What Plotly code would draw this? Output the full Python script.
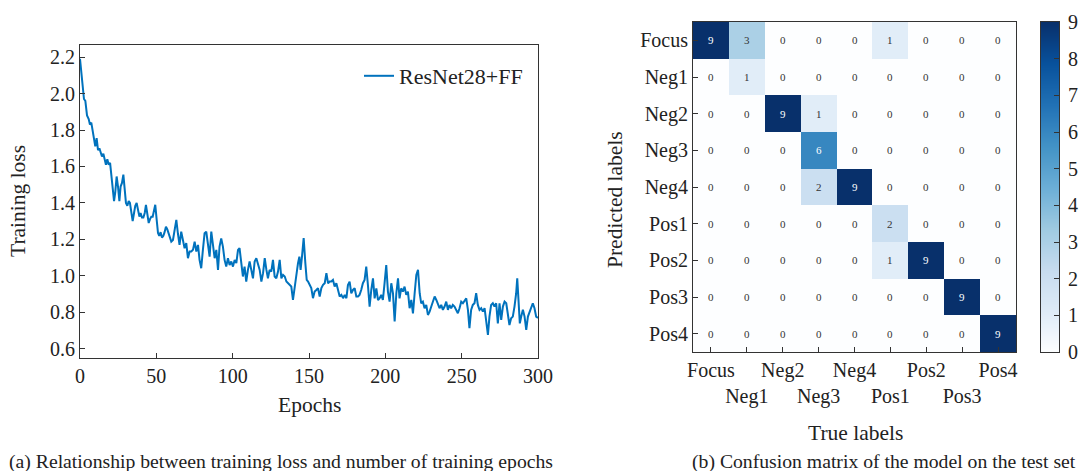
import plotly.graph_objects as go

# ---------------- data: training loss ----------------
epochs = [0, 1.3, 2.0, 2.6, 3.5, 4.6, 5.7, 6.5, 7.4, 8.3, 9.2, 10.0, 10.9, 11.8, 12.7, 13.5, 14.4, 15.3,
          16.2, 17.0, 17.9, 18.8, 19.7, 20.5, 21.4, 22.3, 23.1, 24.0, 24.9, 25.8, 26.6, 27.5, 28.4, 29.3,
          30.1, 31.0, 31.9, 32.7, 33.6, 34.5, 35.4, 36.2, 37.1, 38.0, 38.9, 39.7, 40.6, 41.5, 42.4, 43.2,
          44.1, 45.0, 45.8, 46.7, 47.6, 48.5, 49.3, 50.2, 51.1, 51.9, 52.8, 53.7, 54.6, 55.4, 56.3, 57.2,
          58.7, 59.8, 60.9, 62.0, 63.1, 64.1, 65.2, 66.3, 67.4, 68.5, 69.6, 70.7, 71.8, 72.9, 74.0, 75.1,
          76.2, 77.3, 78.3, 79.4, 80.5, 81.6, 82.7, 83.8, 84.9, 86.0, 87.1, 88.2, 89.3, 90.4, 91.4, 92.5,
          93.6, 94.7, 95.8, 96.9, 98.0, 99.1, 100.2, 101.3, 102.4, 103.5, 104.5, 105.6, 106.7, 107.8, 108.9,
          110.0, 111.1, 112.2, 113.3, 114.4, 115.5, 117.7, 118.8, 119.9, 121.0, 122.1, 123.1, 124.2, 125.3,
          126.4, 127.5, 128.6, 129.7, 130.8, 131.9, 133.0, 134.1, 135.2, 136.3, 137.3, 138.4, 139.5, 140.6,
          141.7, 142.8, 143.7, 144.5, 145.4, 146.5, 147.6, 148.5, 149.4, 150.4, 151.5, 152.6, 153.7, 154.8,
          155.9, 157.0, 158.1, 159.2, 160.3, 161.4, 162.5, 163.5, 164.6, 165.7, 166.8, 167.9, 169.0, 170.1,
          171.2, 172.3, 173.4, 174.5, 175.5, 176.6, 177.7, 178.8, 179.9, 181.0, 182.1, 183.1, 184.2, 185.3,
          186.4, 187.5, 188.6, 189.7, 190.8, 191.9, 193.0, 194.1, 195.2, 196.2, 197.3, 198.4, 199.5, 200.6,
          201.7, 202.8, 203.9, 205.0, 206.1, 207.2, 208.3, 209.3, 210.4, 211.5, 212.6, 213.7, 214.8, 215.9,
          217.0, 218.1, 219.2, 220.3, 221.4, 222.5, 223.5, 224.6, 225.7, 226.8, 227.9, 229.0, 230.1, 231.2,
          232.3, 233.4, 234.4, 235.5, 236.6, 237.7, 238.8, 239.9, 241.0, 242.0, 243.1, 244.2, 245.3, 246.4,
          247.5, 248.6, 249.7, 250.8, 251.9, 253.0, 254.1, 255.1, 256.2, 257.3, 258.4, 259.5, 260.6, 261.7,
          262.8, 263.9, 265.0, 266.0, 267.2, 268.2, 269.3, 270.4, 271.5, 272.6, 273.7, 274.8, 275.9, 277.0,
          278.1, 279.2, 280.3, 281.3, 282.4, 283.5, 284.6, 285.7, 286.4, 287.3, 288.1, 289.0, 290.1, 291.2,
          292.3, 293.4, 294.4, 295.5, 296.6, 297.7, 298.8, 300.0]
loss = [2.19, 2.09, 2.01, 1.97, 1.96, 1.88, 1.86, 1.83, 1.84, 1.80, 1.755, 1.71, 1.755, 1.69, 1.70, 1.67, 1.655, 1.67,
        1.63, 1.61, 1.64, 1.61, 1.62, 1.545, 1.47, 1.41, 1.46, 1.545, 1.49, 1.41, 1.49, 1.51, 1.555, 1.47,
        1.40, 1.385, 1.41, 1.40, 1.345, 1.30, 1.345, 1.385, 1.40, 1.36, 1.325, 1.345, 1.32, 1.32, 1.345, 1.39,
        1.325, 1.29, 1.31, 1.325, 1.325, 1.36, 1.39, 1.31, 1.235, 1.22, 1.24, 1.21, 1.22, 1.24, 1.27, 1.255,
        1.216, 1.188, 1.197, 1.252, 1.307, 1.234, 1.17, 1.243, 1.188, 1.152, 1.18, 1.097, 1.134, 1.134, 1.143, 1.188,
        1.134, 1.17, 1.088, 1.042, 1.143, 1.234, 1.243, 1.161, 1.106, 1.243, 1.17, 1.097, 1.143, 1.033, 1.161, 1.206,
        1.161, 1.088, 1.051, 1.097, 1.06, 1.079, 1.051, 1.088, 1.07, 1.143, 1.152, 1.07, 0.997, 1.051, 0.969,
        1.033, 1.079, 1.033, 0.987, 1.079, 1.097, 1.033, 0.969, 1.015, 1.097, 1.033, 0.987, 1.033, 1.024,
        1.088, 0.997, 0.987, 1.024, 1.088, 0.987, 1.006, 0.997, 0.969, 0.96, 0.951, 0.942, 0.869, 0.942,
        0.997, 1.07, 1.106, 1.033, 1.106, 1.207, 1.07, 0.978, 0.969, 0.951, 0.933, 0.878, 0.914, 0.923,
        0.933, 0.887, 0.933, 0.951, 0.96, 1.015, 0.96, 0.969, 0.969, 0.978, 0.942, 0.96, 0.923, 0.887,
        0.896, 0.878, 0.896, 0.878, 0.95, 0.969, 0.905, 0.923, 0.932, 0.887, 0.887, 0.896, 0.923, 0.96,
        0.978, 1.051, 0.95, 0.832, 0.923, 0.987, 0.877, 0.932, 0.868, 0.877, 0.896, 0.868, 0.96, 1.06,
        0.914, 0.859, 0.96, 0.905, 0.75, 0.905, 0.987, 0.877, 0.932, 0.914, 0.941, 0.896, 0.914, 0.823,
        0.868, 0.795, 0.905, 1.005, 1.033, 0.905, 0.85, 0.859, 0.823, 0.841, 0.786, 0.804, 0.832, 0.859,
        0.887, 0.868, 0.85, 0.823, 0.841, 0.814, 0.832, 0.859, 0.814, 0.841, 0.823, 0.841, 0.832, 0.814,
        0.795, 0.823, 0.859, 0.85, 0.868, 0.877, 0.814, 0.713, 0.814, 0.841, 0.85, 0.905, 0.841, 0.814,
        0.823, 0.804, 0.823, 0.759, 0.677, 0.777, 0.841, 0.85, 0.832, 0.85, 0.74, 0.85, 0.759, 0.832,
        0.859, 0.85, 0.795, 0.731, 0.768, 0.777, 0.832, 0.905, 0.987, 0.868, 0.74, 0.777, 0.814, 0.777,
        0.704, 0.777, 0.804, 0.832, 0.85, 0.823, 0.777, 0.77]
series_name = "ResNet28+FF"
loss_ticks = [0.6, 0.8, 1.0, 1.2, 1.4, 1.6, 1.8, 2.0, 2.2]
epoch_ticks = [0, 50, 100, 150, 200, 250, 300]

# ---------------- data: confusion matrix ----------------
class_labels = ["Focus", "Neg1", "Neg2", "Neg3", "Neg4", "Pos1", "Pos2", "Pos3", "Pos4"]
confusion = [
    [9, 3, 0, 0, 0, 1, 0, 0, 0],
    [0, 1, 0, 0, 0, 0, 0, 0, 0],
    [0, 0, 9, 1, 0, 0, 0, 0, 0],
    [0, 0, 0, 6, 0, 0, 0, 0, 0],
    [0, 0, 0, 2, 9, 0, 0, 0, 0],
    [0, 0, 0, 0, 0, 2, 0, 0, 0],
    [0, 0, 0, 0, 0, 1, 9, 0, 0],
    [0, 0, 0, 0, 0, 0, 0, 9, 0],
    [0, 0, 0, 0, 0, 0, 0, 0, 9],
]
colorbar_ticks = [0, 1, 2, 3, 4, 5, 6, 7, 8, 9]

caption_a = "(a) Relationship between training loss and number of training epochs"
caption_b = "(b) Confusion matrix of the model on the test set"

# ---------------- figure ----------------
W, H = 1080, 471
FONT = "Liberation Serif, Times New Roman, serif"
AX = "#333333"
TXT = "#222222"


def px_x(p):
    return p / W


def px_y(p):
    return 1 - p / H


blues = [[0.0, "rgb(253,254,255)"], [0.125, "rgb(222,235,247)"], [0.25, "rgb(198,219,239)"],
         [0.375, "rgb(158,202,225)"], [0.5, "rgb(107,174,214)"], [0.625, "rgb(66,146,198)"],
         [0.75, "rgb(33,113,181)"], [0.875, "rgb(8,81,156)"], [1.0, "rgb(8,48,107)"]]
zmin, zmax = colorbar_ticks[0], colorbar_ticks[-1]

fig = go.Figure()
fig.add_trace(go.Scatter(x=epochs, y=loss, mode="lines", name=series_name,
                         line=dict(color="#0072BD", width=2), xaxis="x", yaxis="y"))

fig.add_trace(go.Heatmap(
    z=confusion, x=class_labels, y=class_labels, xaxis="x2", yaxis="y2",
    colorscale=blues, zmin=zmin, zmax=zmax, showscale=False, hoverinfo="skip",
))

# colour scale bar drawn as a smoothly interpolated two-level heatmap on its own axes
fig.add_trace(go.Heatmap(
    z=[[zmin, zmin], [zmax, zmax]], x=[0, 1], y=[zmin, zmax], xaxis="x3", yaxis="y3",
    colorscale=blues, zmin=zmin, zmax=zmax, showscale=False, zsmooth="best", hoverinfo="skip",
))

annotations = []
for i, row in enumerate(confusion):
    for j, v in enumerate(row):
        annotations.append(dict(
            x=class_labels[j], y=class_labels[i], xref="x2", yref="y2", text=str(v),
            xanchor="center", yanchor="middle",
            showarrow=False, font=dict(family=FONT, size=11, color="white" if v > 4.5 else "#333")))

xtick_text = [lab if k % 2 == 0 else " <br>" + lab for k, lab in enumerate(class_labels)]


def paper_text(x, y, text, size=21.5, angle=0):
    return dict(x=px_x(x), y=px_y(y), xref="paper", yref="paper", text=text, textangle=angle,
                xanchor="center", yanchor="middle", showarrow=False,
                font=dict(family=FONT, size=size, color=TXT))


annotations += [
    paper_text(18, 201, "Training loss", angle=-90),
    paper_text(309, 405, "Epochs"),
    paper_text(615, 200, "Predicted labels", angle=-90),
    paper_text(855, 433, "True labels"),
    paper_text(281, 461, caption_a, size=19.7),
    paper_text(884, 461, caption_b, size=19.7),
]

axis_common = dict(showline=True, linecolor=AX, linewidth=1, mirror=True, ticks="inside",
                   ticklen=5, tickcolor=AX, showgrid=False, zeroline=False, automargin=False,
                   tickfont=dict(family=FONT, size=20, color=TXT))

fig.update_layout(
    width=W, height=H, margin=dict(l=0, r=0, t=0, b=0, pad=0, autoexpand=False),
    paper_bgcolor="white", plot_bgcolor="white",
    font=dict(family=FONT, color=TXT),
    xaxis=dict(domain=[px_x(80), px_x(538)], range=[0, 300], tickvals=epoch_ticks, anchor="y",
               tickangle=0, **axis_common),
    yaxis=dict(domain=[px_y(358), px_y(45)], range=[0.55, 2.266], tickvals=loss_ticks,
               tickformat=".1f", anchor="x", **axis_common),
    xaxis2=dict(domain=[px_x(693), px_x(1016)], anchor="y2", type="category",
                categoryorder="array", categoryarray=class_labels, tickangle=0,
                tickvals=class_labels, ticktext=xtick_text, **axis_common),
    yaxis2=dict(domain=[px_y(352), px_y(22)], anchor="x2", type="category",
                categoryorder="array", categoryarray=class_labels, autorange="reversed",
                **axis_common),
    xaxis3=dict(domain=[px_x(1041), px_x(1059)], anchor="y3", range=[0, 1], showline=True,
                linecolor=AX, linewidth=1, mirror=True, ticks="", showticklabels=False,
                showgrid=False, zeroline=False, automargin=False, fixedrange=True),
    yaxis3=dict(domain=[px_y(352), px_y(22)], anchor="x3", range=[zmin, zmax], side="right",
                tickvals=colorbar_ticks, ticklabelstandoff=4, **axis_common),
    showlegend=True,
    legend=dict(x=px_x(359), y=px_y(55), xanchor="left", yanchor="top", bgcolor="rgba(0,0,0,0)",
                font=dict(family=FONT, size=22, color=TXT)),
    annotations=annotations,
)

fig.write_html("out.html")
